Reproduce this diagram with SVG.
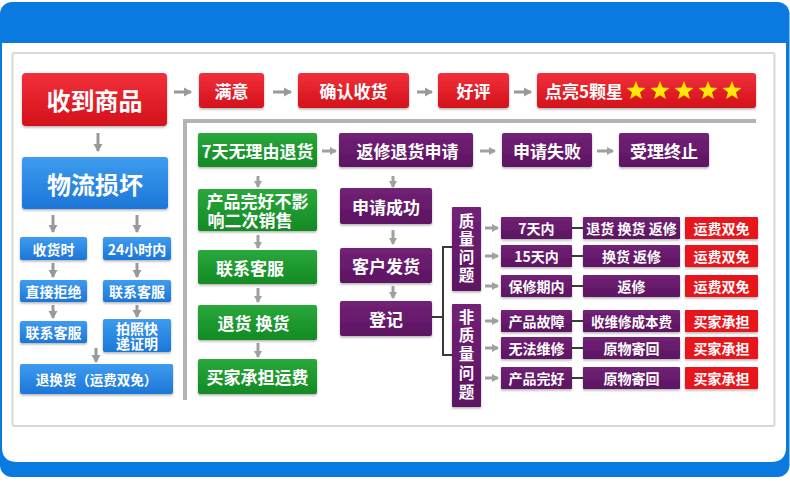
<svg xmlns="http://www.w3.org/2000/svg" width="790" height="485" viewBox="0 0 790 485">
<defs>
<linearGradient id="gr" x1="0" y1="0" x2="0" y2="1"><stop offset="0" stop-color="#f2303a"/><stop offset="1" stop-color="#d3111b"/></linearGradient>
<linearGradient id="gb" x1="0" y1="0" x2="0" y2="1"><stop offset="0" stop-color="#3e9cef"/><stop offset="1" stop-color="#1c76d8"/></linearGradient>
<linearGradient id="gg" x1="0" y1="0" x2="0" y2="1"><stop offset="0" stop-color="#2aa83c"/><stop offset="1" stop-color="#138a24"/></linearGradient>
<linearGradient id="gp" x1="0" y1="0" x2="0" y2="1"><stop offset="0" stop-color="#722276"/><stop offset="1" stop-color="#5c1461"/></linearGradient>
<filter id="sh" x="-10%" y="-20%" width="120%" height="150%"><feDropShadow dx="0" dy="1.5" stdDeviation="1" flood-color="#000" flood-opacity="0.3"/></filter>
<marker id="ah" markerUnits="userSpaceOnUse" markerWidth="10" markerHeight="10" refX="7" refY="5" orient="auto"><path d="M0,0.5 L8,5 L0,9.5 Z" fill="#999"/></marker>
<marker id="ah2" markerUnits="userSpaceOnUse" markerWidth="10" markerHeight="10" refX="6" refY="4" orient="auto"><path d="M0,0 L7,4 L0,8 Z" fill="#a0a0a0"/></marker>
<polygon id="star" points="0,-10 2.48,-3.41 9.51,-3.09 4.01,1.3 5.88,8.09 0,4.22 -5.88,8.09 -4.01,1.3 -9.51,-3.09 -2.48,-3.41" fill="#ffea00"/>
<style>
.t{font-family:"Noto Sans CJK SC","Liberation Sans",sans-serif;font-weight:bold;fill:#fff;text-anchor:middle;dominant-baseline:central}
.r{fill:url(#gr);filter:url(#sh)}
.b{fill:url(#gb);filter:url(#sh)}
.g{fill:url(#gg);filter:url(#sh)}
.p{fill:url(#gp);filter:url(#sh)}
.rs{fill:#e8141f;filter:url(#sh)}
.a{stroke:#999;stroke-width:3;fill:none;marker-end:url(#ah)}
.a2{stroke:#a0a0a0;stroke-width:3;fill:none;marker-end:url(#ah2)}
.ln{stroke:#3a3a3a;stroke-width:2;fill:none}
.f18{font-size:17px}.f14{font-size:14px}.f24{font-size:24px}
.fv{font-size:15.5px;writing-mode:vertical-rl}
</style>
</defs>

<!-- frame -->
<rect x="0" y="2" width="789.5" height="475" rx="12" fill="#0a7ae0"/>
<path d="M2 43 H786 V447 Q786 462 771 462 H17 Q2 462 2 447 Z" fill="#fff"/>
<rect x="12.5" y="53" width="762" height="373" rx="2" fill="#fff" stroke="#d8d8d8" stroke-width="2"/>
<path d="M185 400 V121 H756" fill="none" stroke="#b3b3b3" stroke-width="4"/>

<!-- connectors -->
<g id="connectors">
<path class="a" d="M174 92 H191"/>
<path class="a" d="M273 92 H291"/>
<path class="a" d="M417 92 H432"/>
<path class="a" d="M514 92 H531"/>
<path class="a" d="M98 133 V151"/>
<path class="a" d="M53 215 V232"/>
<path class="a" d="M137 215 V232"/>
<path class="a" d="M53 263 V277"/>
<path class="a" d="M137 263 V277"/>
<path class="a" d="M53 305 V318"/>
<path class="a" d="M137 305 V317"/>
<path class="a" d="M96 348 V362"/>
<path class="a2" d="M322 151 H336"/>
<path class="a2" d="M258 176 V187"/>
<path class="a2" d="M258 235 V248"/>
<path class="a2" d="M258 288 V302"/>
<path class="a2" d="M258 343 V357"/>
<path class="a2" d="M480 151 H495"/>
<path class="a2" d="M597 151 H613"/>
<path class="a2" d="M393 176 V187"/>
<path class="a2" d="M393 230 V244"/>
<path class="a2" d="M393 286 V298"/>
<path class="ln" d="M432 317 H443"/>
<path class="ln" d="M452 247 H443 V355 H452"/>
<path class="a2" d="M485 228 H498"/>
<path class="a2" d="M485 256 H498"/>
<path class="a2" d="M485 286 H498"/>
<path class="a2" d="M485 321 H498"/>
<path class="a2" d="M485 348 H498"/>
<path class="a2" d="M485 378 H498"/>
<path class="ln" d="M572 228 H583"/>
<path class="ln" d="M572 256 H583"/>
<path class="ln" d="M572 286 H583"/>
<path class="ln" d="M572 321 H583"/>
<path class="ln" d="M572 348 H583"/>
<path class="ln" d="M572 378 H583"/>
</g>

<!-- top row -->
<g id="n-receive"><rect class="r" x="22" y="73" width="145" height="53" rx="4"/><text class="t f24" x="94.5" y="99.5">收到商品</text></g>
<g id="n-satisfied"><rect class="r" x="199" y="73" width="65" height="35" rx="3"/><text class="t f18" x="231.5" y="90.5">满意</text></g>
<g id="n-confirm"><rect class="r" x="298" y="73" width="111" height="35" rx="3"/><text class="t f18" x="353.5" y="90.5">确认收货</text></g>
<g id="n-good"><rect class="r" x="438" y="73" width="71" height="35" rx="3"/><text class="t f18" x="473.5" y="90.5">好评</text></g>
<g id="n-stars"><rect class="r" x="537" y="73" width="219" height="35" rx="3"/><text class="t f18" x="545" y="90.5" style="text-anchor:start">点亮5颗星</text>
<use href="#star" x="636" y="91"/><use href="#star" x="660" y="91"/><use href="#star" x="684" y="91"/><use href="#star" x="708" y="91"/><use href="#star" x="732" y="91"/></g>

<!-- left blue column -->
<g id="n-damage"><rect class="b" x="22" y="157" width="146" height="52" rx="3"/><text class="t f24" x="95" y="183">物流损坏</text></g>
<g id="n-onreceipt"><rect class="b" x="20" y="237" width="67" height="23" rx="2"/><text class="t f14" x="53.5" y="248.5">收货时</text></g>
<g id="n-24h"><rect class="b" x="103" y="237" width="68" height="23" rx="2"/><text class="t f14" x="137" y="248.5">24小时内</text></g>
<g id="n-reject"><rect class="b" x="20" y="280" width="67" height="22" rx="2"/><text class="t f14" x="53.5" y="291">直接拒绝</text></g>
<g id="n-cs1"><rect class="b" x="103" y="280" width="68" height="22" rx="2"/><text class="t f14" x="137" y="291">联系客服</text></g>
<g id="n-cs2"><rect class="b" x="20" y="321" width="67" height="22" rx="2"/><text class="t f14" x="53.5" y="332">联系客服</text></g>
<g id="n-photo"><rect class="b" x="103" y="319" width="68" height="33" rx="2"/><text class="t f14" x="137" y="328">拍照快<tspan x="137" dy="15">递证明</tspan></text></g>
<g id="n-exchange"><rect class="b" x="20" y="364" width="153" height="30" rx="2"/><text class="t" style="font-size:13.5px" x="96.5" y="379">退换货（运费双免）</text></g>

<!-- green column -->
<g id="n-7day"><rect class="g" x="198" y="133" width="119" height="34" rx="2"/><text class="t f18" x="257.5" y="150">7天无理由退货</text></g>
<g id="n-intact"><rect class="g" x="198" y="189" width="119" height="42" rx="2"/><text class="t f18" x="257.5" y="200">产品完好不影<tspan x="207.5" dy="19" style="text-anchor:start">响二次销售</tspan></text></g>
<g id="n-cs3"><rect class="g" x="198" y="250" width="119" height="34" rx="2"/><text class="t f18" x="250" y="267">联系客服</text></g>
<g id="n-return"><rect class="g" x="198" y="305" width="119" height="35" rx="2"/><text class="t f18" x="253.5" y="322.5" xml:space="preserve">退货 换货</text></g>
<g id="n-buyerpay"><rect class="g" x="198" y="359" width="119" height="35" rx="2"/><text class="t f18" x="257.5" y="376.5">买家承担运费</text></g>

<!-- purple column -->
<g id="n-apply"><rect class="p" x="339" y="133" width="134" height="34" rx="2"/><text class="t f18" x="407.5" y="150">返修退货申请</text></g>
<g id="n-fail"><rect class="p" x="502" y="133" width="90" height="34" rx="2"/><text class="t f18" x="547" y="150">申请失败</text></g>
<g id="n-end"><rect class="p" x="619" y="133" width="90" height="34" rx="2"/><text class="t f18" x="664" y="150">受理终止</text></g>
<g id="n-success"><rect class="p" x="340" y="188" width="92" height="36" rx="2"/><text class="t f18" x="386" y="206">申请成功</text></g>
<g id="n-ship"><rect class="p" x="340" y="248" width="92" height="35" rx="2"/><text class="t f18" x="386" y="265.5">客户发货</text></g>
<g id="n-register"><rect class="p" x="340" y="301" width="92" height="35" rx="2"/><text class="t f18" x="386" y="318.5">登记</text></g>

<g id="n-quality"><rect class="p" x="452" y="207" width="29" height="84" rx="1"/>
<text class="t fv" x="466.5" y="249" style="letter-spacing:2.5px">质量问题</text></g>
<g id="n-nonquality"><rect class="p" x="452" y="304" width="29" height="103" rx="1"/>
<text class="t fv" x="466.5" y="356" style="letter-spacing:3.3px">非质量问题</text></g>

<!-- rows -->
<g id="row1"><rect class="p" x="501" y="217" width="71" height="22" rx="1"/><text class="t f14" x="536.5" y="228">7天内</text>
<rect class="p" x="583" y="217" width="97" height="22" rx="1"/><text class="t f14" x="631.5" y="228" xml:space="preserve">退货 换货 返修</text>
<rect class="rs" x="685" y="217" width="73" height="22" rx="1"/><text class="t f14" x="721.5" y="228">运费双免</text></g>
<g id="row2"><rect class="p" x="501" y="245" width="71" height="22" rx="1"/><text class="t f14" x="536.5" y="256">15天内</text>
<rect class="p" x="583" y="245" width="97" height="22" rx="1"/><text class="t f14" x="631.5" y="256" xml:space="preserve">换货 返修</text>
<rect class="rs" x="685" y="245" width="73" height="22" rx="1"/><text class="t f14" x="721.5" y="256">运费双免</text></g>
<g id="row3"><rect class="p" x="501" y="275" width="71" height="22" rx="1"/><text class="t f14" x="536.5" y="286">保修期内</text>
<rect class="p" x="583" y="275" width="97" height="22" rx="1"/><text class="t f14" x="631.5" y="286">返修</text>
<rect class="rs" x="685" y="275" width="73" height="22" rx="1"/><text class="t f14" x="721.5" y="286">运费双免</text></g>
<g id="row4"><rect class="p" x="501" y="310" width="71" height="22" rx="1"/><text class="t f14" x="536.5" y="321">产品故障</text>
<rect class="p" x="583" y="310" width="97" height="22" rx="1"/><text class="t" style="font-size:13.5px" x="631.5" y="321">收维修成本费</text>
<rect class="rs" x="685" y="310" width="73" height="22" rx="1"/><text class="t f14" x="721.5" y="321">买家承担</text></g>
<g id="row5"><rect class="p" x="501" y="337" width="71" height="22" rx="1"/><text class="t f14" x="536.5" y="348">无法维修</text>
<rect class="p" x="583" y="337" width="97" height="22" rx="1"/><text class="t f14" x="631.5" y="348">原物寄回</text>
<rect class="rs" x="685" y="337" width="73" height="22" rx="1"/><text class="t f14" x="721.5" y="348">买家承担</text></g>
<g id="row6"><rect class="p" x="501" y="367" width="71" height="22" rx="1"/><text class="t f14" x="536.5" y="378">产品完好</text>
<rect class="p" x="583" y="367" width="97" height="22" rx="1"/><text class="t f14" x="631.5" y="378">原物寄回</text>
<rect class="rs" x="685" y="367" width="73" height="22" rx="1"/><text class="t f14" x="721.5" y="378">买家承担</text></g>
</svg>
